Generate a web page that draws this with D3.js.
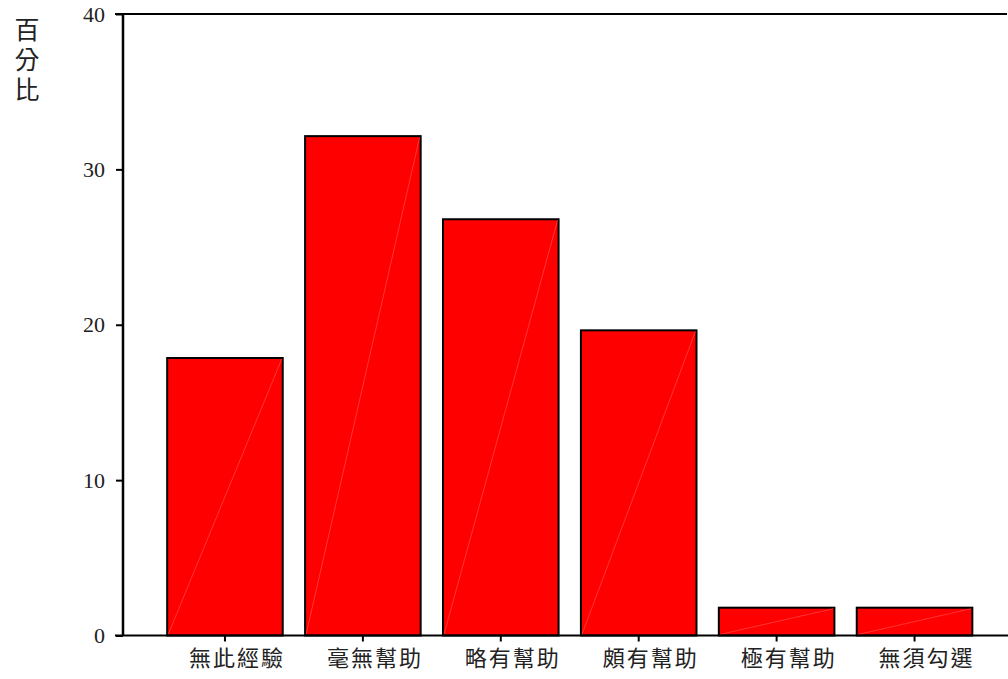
<!DOCTYPE html>
<html><head><meta charset="utf-8">
<script src="https://cdn.jsdelivr.net/npm/d3@7"></script>
<style>
html,body{margin:0;padding:0;background:#fff;}
svg{display:block;}
</style></head>
<body><svg id="c" width="1008" height="679"></svg>
<script>
const categories = ["無此經驗","毫無幫助","略有幫助","頗有幫助","極有幫助","無須勾選"];
const percentages = [17.86, 32.14, 26.79, 19.64, 1.79, 1.79];
const yTicks = [0, 10, 20, 30, 40];
const yTitle = "百分比";

const svg = d3.select("#c");
const x = d3.scaleBand().domain(categories).range([156, 983.5]).paddingInner(0.162).paddingOuter(0.081);
const y = d3.scaleLinear().domain([0, 40]).range([635.5, 14]);
const axisX = 123;
const serif = "'Liberation Serif','DejaVu Serif',serif";
const cjk = "'Noto Sans CJK TC','Noto Sans CJK SC',sans-serif";

// bars
const g = svg.append("g");
g.selectAll("rect.bar").data(percentages).join("rect")
  .attr("class","bar")
  .attr("x",(d,i)=>x(categories[i]))
  .attr("y",d=>y(d))
  .attr("width",x.bandwidth())
  .attr("height",d=>y(0)-y(d))
  .attr("fill","#ff0000")
  .attr("stroke","#000")
  .attr("stroke-width",2);
// faint diagonal artefact
g.selectAll("line.diag").data(percentages).join("line")
  .attr("x1",(d,i)=>x(categories[i])+1)
  .attr("y1",y(0)-1)
  .attr("x2",(d,i)=>x(categories[i])+x.bandwidth()-1)
  .attr("y2",d=>y(d)+1)
  .attr("stroke","#ff8080")
  .attr("stroke-width",0.6)
  .attr("opacity",0.7);

// y axis
const ya = svg.append("g").attr("transform",`translate(${axisX},0)`)
  .call(d3.axisLeft(y).tickValues(yTicks).tickSize(7).tickPadding(11).tickFormat(d3.format("d")));
ya.select(".domain").remove();
ya.selectAll(".tick line").attr("stroke","#000").attr("stroke-width",2);
ya.selectAll(".tick text").attr("font-family",serif).attr("font-size",22).attr("fill","#222");
svg.append("line").attr("x1",axisX).attr("x2",axisX).attr("y1",y(40)).attr("y2",y(0))
  .attr("stroke","#000").attr("stroke-width",2.5);
// top frame line
svg.append("line").attr("x1",axisX-8).attr("x2",1007).attr("y1",y(40)).attr("y2",y(40))
  .attr("stroke","#000").attr("stroke-width",2);

// x axis
const xa = svg.append("g").attr("transform",`translate(0,${y(0)})`)
  .call(d3.axisBottom(x).tickSize(6).tickPadding(9));
xa.select(".domain").remove();
xa.selectAll(".tick line").attr("stroke","#000").attr("stroke-width",2);
xa.selectAll(".tick text").attr("font-family",cjk).attr("font-size",22).attr("fill","#222")
  .attr("letter-spacing","2px").attr("dx",12).attr("dy","0.72em");
svg.append("line").attr("x1",axisX-8).attr("x2",1008).attr("y1",y(0)).attr("y2",y(0))
  .attr("stroke","#000").attr("stroke-width",2);

// y title vertical
svg.append("text")
  .attr("x",27).attr("y",17)
  .attr("style","writing-mode: vertical-rl; text-orientation: upright;")
  .attr("letter-spacing","5px")
  .attr("font-family",cjk).attr("font-size",25).attr("fill","#222")
  .text(yTitle);
</script></body></html>
